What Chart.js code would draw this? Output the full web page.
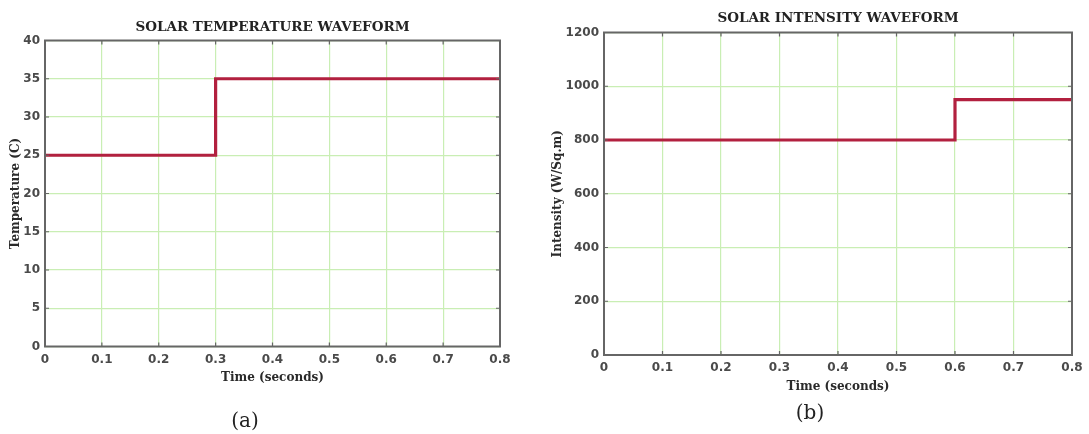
<!DOCTYPE html>
<html>
<head>
<meta charset="utf-8">
<script src="https://cdn.jsdelivr.net/npm/chart.js@4/dist/chart.umd.min.js"></script>
<style>
  html, body { margin: 0; padding: 0; background: #ffffff; }
  body { width: 1089px; height: 434px; position: relative; overflow: hidden; }
  .panel { position: absolute; top: 0; }
  .caption {
    position: absolute; font-family: "DejaVu Serif", serif; font-size: 20px;
    color: #222; transform: translate(-50%, -50%); white-space: nowrap;
  }
</style>
</head>
<body>
<div class="panel" style="left:0;"><canvas id="tempChart" width="540" height="434"></canvas></div>
<div class="panel" style="left:540px;"><canvas id="sunChart" width="549" height="434"></canvas></div>
<div class="caption" style="left:245px; top:420px;">(a)</div>
<div class="caption" style="left:810px; top:412px;">(b)</div>

<script>
// Step inputs of the PV model: cell temperature and irradiance over time
const tempTimes = [0, 0.3, 0.8];
const tempValues = [25, 35, 35];
const tempTicksY = [0, 5, 10, 15, 20, 25, 30, 35, 40];

const sunTimes = [0, 0.6, 0.8];
const sunValues = [800, 950, 950];
const sunTicksY = [0, 200, 400, 600, 800, 1000, 1200];

const timeTicks = [0, 0.1, 0.2, 0.3, 0.4, 0.5, 0.6, 0.7, 0.8];

const LINE_COLOR = '#b2203f';
const GRID_COLOR = '#c9eeb4';
const FRAME_COLOR = '#666666';
const TICK_FONT = { family: 'DejaVu Sans', weight: 'bold', size: 12 };
const LABEL_FONT = { family: 'DejaVu Serif', weight: 'bold', size: 12 };
const TITLE_FONT = { family: 'DejaVu Serif', weight: 'bold', size: 13.5 };

// Box around the plot area plus short inward tick marks on all four sides
const framePlugin = {
  id: 'frame',
  afterDatasetsDraw(chart) {
    const { ctx, chartArea: a, scales } = chart;
    ctx.save();
    ctx.strokeStyle = FRAME_COLOR;
    ctx.lineWidth = 1.2;
    const len = 4;
    scales.x.ticks.forEach(t => {
      const px = scales.x.getPixelForValue(t.value);
      ctx.beginPath();
      ctx.moveTo(px, a.bottom); ctx.lineTo(px, a.bottom - len);
      ctx.moveTo(px, a.top); ctx.lineTo(px, a.top + len);
      ctx.stroke();
    });
    scales.y.ticks.forEach(t => {
      const py = scales.y.getPixelForValue(t.value);
      ctx.beginPath();
      ctx.moveTo(a.left, py); ctx.lineTo(a.left + len, py);
      ctx.moveTo(a.right, py); ctx.lineTo(a.right - len, py);
      ctx.stroke();
    });
    ctx.lineWidth = 2;
    ctx.strokeRect(a.left, a.top, a.right - a.left, a.bottom - a.top);
    ctx.restore();
  }
};

function fmtTime(v) {
  return v === 0 ? '0' : Number(v).toFixed(1);
}

function makeChart(id, cfg) {
  const pts = cfg.times.map((t, i) => ({ x: t, y: cfg.values[i] }));
  return new Chart(document.getElementById(id), {
    type: 'line',
    data: {
      datasets: [{
        data: pts,
        stepped: 'before',
        borderColor: LINE_COLOR,
        borderWidth: 3.2,
        pointRadius: 0,
        fill: false
      }]
    },
    options: {
      responsive: false,
      animation: false,
      devicePixelRatio: 1,
      layout: { padding: cfg.padding },
      plugins: {
        legend: { display: false },
        tooltip: { enabled: false },
        title: {
          display: true,
          text: cfg.title,
          fullSize: false,
          color: '#222222',
          font: TITLE_FONT,
          padding: cfg.titlePad
        }
      },
      scales: {
        x: {
          type: 'linear',
          min: timeTicks[0],
          max: timeTicks[timeTicks.length - 1],
          afterBuildTicks: s => { s.ticks = timeTicks.map(v => ({ value: v })); },
          afterFit: s => { s.height = cfg.xAxisHeight; },
          ticks: {
            color: '#4a4a4a', font: TICK_FONT, padding: cfg.xTickPad,
            maxRotation: 0, autoSkip: false, callback: fmtTime
          },
          grid: { color: GRID_COLOR, lineWidth: 1.2, drawTicks: false },
          border: { display: false },
          title: {
            display: true, text: 'Time (seconds)', color: '#2a2a2a',
            font: LABEL_FONT, padding: { top: 0, bottom: 0 }
          }
        },
        y: {
          min: cfg.yTicks[0],
          max: cfg.yTicks[cfg.yTicks.length - 1],
          afterBuildTicks: s => { s.ticks = cfg.yTicks.map(v => ({ value: v })); },
          afterFit: s => { s.width = cfg.yAxisWidth; },
          ticks: {
            color: '#4a4a4a', font: TICK_FONT, padding: 5, autoSkip: false,
            callback: v => String(v)
          },
          grid: { color: GRID_COLOR, lineWidth: 1.2, drawTicks: false },
          border: { display: false },
          title: {
            display: true, text: cfg.yLabel, color: '#2a2a2a',
            font: LABEL_FONT, padding: { top: cfg.yTitlePad, bottom: 0 }
          }
        }
      }
    },
    plugins: [framePlugin]
  });
}

makeChart('tempChart', {
  title: 'SOLAR TEMPERATURE WAVEFORM',
  yLabel: 'Temperature (C)',
  times: tempTimes,
  values: tempValues,
  yTicks: tempTicksY,
  padding: { top: 0, left: 0, right: 40, bottom: 48.8 },
  titlePad: { top: 18.9, bottom: 5.4 },
  xAxisHeight: 38.7,
  xTickPad: 6.5,
  yAxisWidth: 45,
  yTitlePad: 8.8
});

makeChart('sunChart', {
  title: 'SOLAR INTENSITY WAVEFORM',
  yLabel: 'Intensity (W/Sq.m)',
  times: sunTimes,
  values: sunValues,
  yTicks: sunTicksY,
  padding: { top: 0, left: 0, right: 17, bottom: 39.8 },
  titlePad: { top: 9.9, bottom: 6.4 },
  xAxisHeight: 39.2,
  xTickPad: 6,
  yAxisWidth: 64,
  yTitlePad: 10.8
});
</script>
</body>
</html>
